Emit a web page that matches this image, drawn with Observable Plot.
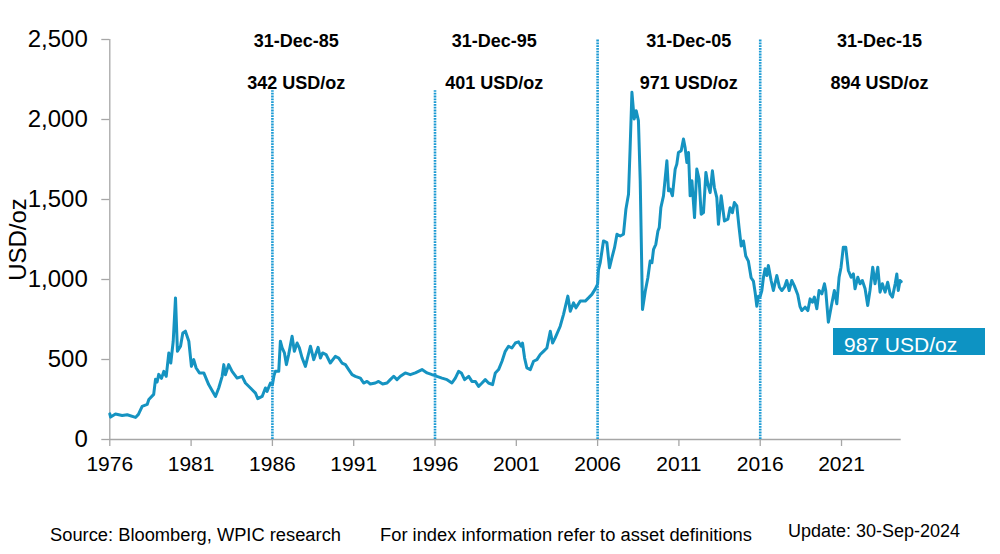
<!DOCTYPE html>
<html><head><meta charset="utf-8">
<script src="https://cdn.jsdelivr.net/npm/d3@7"></script>
<script src="https://cdn.jsdelivr.net/npm/@observablehq/plot@0.6"></script>
<style>
body{margin:0;background:#fff;font-family:"Liberation Sans",Arial,sans-serif;}
#wrap{position:relative;width:1000px;height:554px;overflow:hidden;background:#fff;}
#foot{position:absolute;left:0;top:500px;}
#latest{position:absolute;left:833px;top:328px;width:152px;height:27px;box-sizing:border-box;background:#0d93c3;color:#fff;font-size:21px;line-height:27px;padding:3px 0 0 11px;white-space:nowrap;font-family:"Liberation Sans",Arial,sans-serif;}
</style></head><body>
<div id="wrap"><div id="chart"></div>
<svg id="foot" width="1000" height="54" font-family="Liberation Sans, Arial, sans-serif" font-size="18" fill="#000">
<text x="50" y="41" textLength="291" lengthAdjust="spacingAndGlyphs">Source: Bloomberg, WPIC research</text>
<text x="380" y="41" textLength="372" lengthAdjust="spacingAndGlyphs">For index information refer to asset definitions</text>
<text x="788" y="37" textLength="172" lengthAdjust="spacingAndGlyphs">Update: 30-Sep-2024</text>
</svg>
<div id="latest">987 USD/oz</div></div>
<script>
// Price history (decimal year, USD/oz)
const dates = [1976.0,1976.05,1976.35,1976.76,1977.07,1977.58,1977.76,1977.99,1978.3,1978.4,1978.7,1978.81,1978.91,1979.01,1979.18,1979.32,1979.47,1979.63,1979.75,1979.9,1980.04,1980.16,1980.35,1980.49,1980.65,1980.86,1981.02,1981.16,1981.31,1981.51,1981.78,1982.08,1982.5,1982.7,1982.91,1983.01,1983.11,1983.31,1983.52,1983.83,1984.14,1984.34,1984.65,1984.96,1985.1,1985.37,1985.57,1985.67,1985.88,1986.0,1986.1,1986.18,1986.39,1986.49,1986.6,1986.74,1986.86,1987.0,1987.21,1987.35,1987.52,1987.66,1987.83,1988.03,1988.34,1988.54,1988.81,1988.95,1989.09,1989.3,1989.56,1989.87,1990.08,1990.28,1990.49,1990.69,1990.9,1991.1,1991.41,1991.61,1991.82,1992.02,1992.33,1992.53,1992.78,1993.05,1993.25,1993.46,1993.66,1993.87,1994.17,1994.48,1994.79,1995.2,1995.51,1995.82,1996.0,1996.12,1996.43,1996.74,1997.04,1997.25,1997.45,1997.62,1997.82,1998.07,1998.27,1998.48,1998.68,1998.89,1999.09,1999.29,1999.54,1999.71,1999.91,2000.12,2000.32,2000.52,2000.73,2000.94,2001.14,2001.3,2001.38,2001.51,2001.65,2001.86,2002.06,2002.27,2002.47,2002.67,2002.88,2003.09,2003.23,2003.39,2003.7,2003.9,2004.17,2004.32,2004.52,2004.67,2004.93,2005.24,2005.44,2005.65,2005.85,2006.0,2006.05,2006.16,2006.36,2006.57,2006.73,2006.88,2007.04,2007.19,2007.39,2007.59,2007.74,2007.9,2008.0,2008.11,2008.25,2008.37,2008.51,2008.62,2008.76,2008.93,2009.09,2009.23,2009.34,2009.44,2009.58,2009.71,2009.79,2009.89,2010.05,2010.26,2010.36,2010.46,2010.6,2010.77,2010.87,2010.97,2011.14,2011.28,2011.38,2011.49,2011.59,2011.69,2011.8,2011.96,2012.1,2012.24,2012.37,2012.51,2012.66,2012.78,2012.92,2013.06,2013.18,2013.33,2013.43,2013.6,2013.8,2014.01,2014.15,2014.29,2014.41,2014.56,2014.7,2014.83,2014.97,2015.11,2015.27,2015.44,2015.58,2015.69,2015.79,2015.89,2016.0,2016.1,2016.2,2016.3,2016.41,2016.5,2016.67,2016.81,2017.02,2017.18,2017.33,2017.49,2017.63,2017.78,2017.94,2018.1,2018.31,2018.45,2018.56,2018.76,2018.93,2019.07,2019.21,2019.33,2019.48,2019.62,2019.79,2019.95,2020.03,2020.19,2020.36,2020.56,2020.71,2020.85,2020.97,2021.11,2021.26,2021.42,2021.59,2021.73,2021.83,2022.0,2022.14,2022.28,2022.45,2022.61,2022.75,2022.92,2023.06,2023.23,2023.37,2023.51,2023.68,2023.84,2023.99,2024.13,2024.3,2024.4,2024.49,2024.6,2024.67];
const prices = [160,140,159,150,155,138,157,207,219,250,282,376,359,407,382,426,395,541,478,614,885,551,583,666,677,614,457,499,447,416,416,343,269,322,395,468,405,468,426,384,395,353,322,290,255,269,322,301,353,342,400,426,426,614,572,541,468,531,645,551,603,572,509,457,583,499,576,509,541,531,478,520,509,478,468,437,405,395,384,353,363,347,353,363,347,353,374,395,374,395,416,405,416,437,416,405,401,395,384,374,353,384,426,416,374,395,363,363,332,353,374,353,343,416,437,489,551,583,572,603,610,583,603,509,447,437,489,499,531,551,572,677,603,635,708,781,896,802,854,823,865,865,885,907,940,971,1060,1105,1241,1230,1073,1136,1199,1283,1272,1283,1439,1533,1825,2170,2003,2055,1993,1617,813,927,1011,1115,1105,1189,1220,1303,1324,1449,1523,1742,1554,1565,1523,1690,1721,1794,1805,1878,1825,1731,1794,1523,1617,1387,1690,1627,1408,1418,1669,1596,1543,1679,1575,1512,1345,1523,1366,1377,1449,1418,1481,1460,1324,1209,1241,1147,1115,1011,990,917,833,896,894,931,1014,1067,1025,1087,994,931,1025,952,931,952,994,931,994,960,905,830,806,827,806,879,858,890,817,931,910,973,931,733,827,931,848,1014,1077,1202,1202,1056,1014,1035,942,1014,973,994,942,838,931,1077,973,1077,921,973,921,983,910,890,973,1035,931,994,987];

// Reference dates (end of year) and their prices
const eventYears = [1986, 1996, 2006, 2016];
const eventDates = ["31-Dec-85", "31-Dec-95", "31-Dec-05", "31-Dec-15"];
const eventPrices = ["342 USD/oz", "401 USD/oz", "971 USD/oz", "894 USD/oz"];
const eventLineTops = [2180, 2180, 2500, 2500];
const labelYears = [1987.47, 1999.64, 2011.6, 2023.33];

const xTicks = [1976, 1981, 1986, 1991, 1996, 2001, 2006, 2011, 2016, 2021];
const yTicks = [0, 500, 1000, 1500, 2000, 2500];

const series = dates.map((d, i) => ({date: d, price: prices[i]}));
const events = eventYears.map((y, i) => ({year: y, top: eventLineTops[i], label: labelYears[i], date: eventDates[i], price: eventPrices[i]}));

const blue = "#1593c1";
const grey = "#a6a6a6";

const chart = Plot.plot({
  width: 1000,
  height: 500,
  marginLeft: 109.3,
  marginRight: 99.3,
  marginTop: 39,
  marginBottom: 61,
  style: {fontFamily: "Liberation Sans, Arial, sans-serif", color: "#000", background: "#fff"},
  x: {domain: [1976, 2024.67], label: null},
  y: {domain: [0, 2500], label: null},
  marks: [
    Plot.ruleY([0], {stroke: grey, strokeWidth: 1.3}),
    Plot.ruleX([1976], {stroke: grey, strokeWidth: 1.3}),
    Plot.axisX({ticks: xTicks, tickFormat: d => String(d), tickSize: 7, tickPadding: 10, fontSize: 21, stroke: grey, strokeWidth: 1.3, color: "#000"}),
    Plot.axisY({ticks: yTicks, tickFormat: d3.format(","), tickSize: 8, tickPadding: 14, fontSize: 24, stroke: grey, strokeWidth: 1.3,
      label: "USD/oz", labelAnchor: "center", labelArrow: "none", labelOffset: 101}),
    Plot.line(series, {x: "date", y: "price", stroke: blue, strokeWidth: 3, strokeLinejoin: "round"}),
    Plot.ruleX(events, {x: "year", y1: 0, y2: "top", stroke: "#1c9ad3", strokeWidth: 2.6, strokeDasharray: "1.8,1"}),
    Plot.text(events, {x: "label", text: "date", frameAnchor: "top", dy: 2, lineAnchor: "middle", fontSize: 18, fontWeight: "bold", fill: "#000"}),
    Plot.text(events, {x: "label", text: "price", frameAnchor: "top", dy: 44, lineAnchor: "middle", fontSize: 18, fontWeight: "bold", fill: "#000"})
  ]
});
document.getElementById("chart").appendChild(chart);
</script>
</body></html>
